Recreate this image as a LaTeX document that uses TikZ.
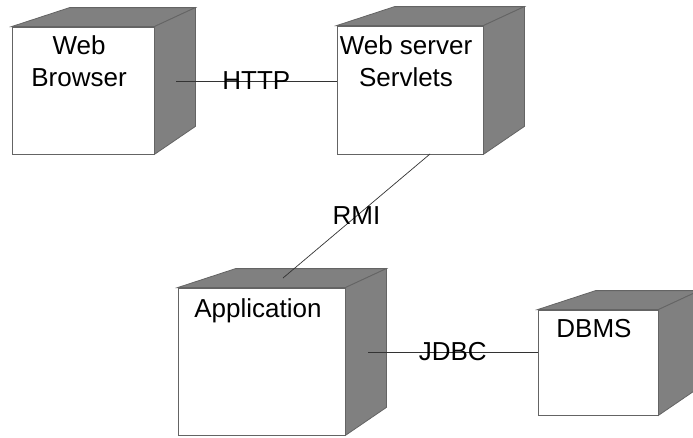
\documentclass[tikz,border=0pt]{standalone}
\usepackage{fontspec}
\setmainfont{Liberation Sans}
\usepackage{tikz}
\usetikzlibrary{positioning,calc}

\definecolor{sidegray}{RGB}{128,128,128}
\definecolor{edgegray}{RGB}{100,100,100}

% top and right faces of a node box
\newcommand{\nodedepth}[1]{%
  \filldraw[fill=sidegray, draw=edgegray, line width=0.8pt]
    (#1.north west) -- ++(58,-19) -- ($(#1.north east)+(41,-19)$) -- (#1.north east) -- cycle;
  \filldraw[fill=sidegray, draw=edgegray, line width=0.8pt]
    (#1.north east) -- ++(41,-19) -- ($(#1.south east)+(41,-28)$) -- (#1.south east) -- cycle;
}

\begin{document}
\begin{tikzpicture}[
    x=1pt, y=-1pt,
    device/.style={rectangle, draw=edgegray, fill=white, line width=0.8pt, inner sep=0pt},
    devlabel/.style={anchor=north, inner sep=0pt, align=center, font=\fontsize{26}{32}\selectfont},
    link/.style={draw=black!80, line width=0.7pt},
    linklabel/.style={midway, inner sep=0pt, font=\fontsize{26}{32}\selectfont}
]
\useasboundingbox (0,0) rectangle (693,437);
\clip (0,0) rectangle (693,437);

\node[device, minimum width=142pt, minimum height=127pt] (browser) at (83,90.5) {};
\node[device, minimum width=146pt, minimum height=128pt] (server) at (410,90) {};
\node[device, minimum width=167pt, minimum height=147pt] (app) at (261.5,361.5) {};
\node[device, minimum width=120pt, minimum height=105pt] (dbms) at (598,362.5) {};

\nodedepth{browser}
\nodedepth{server}
\nodedepth{app}
\nodedepth{dbms}

\node[devlabel] (browserlbl) at (79,35) {Web\\Browser};
\node[devlabel] (serverlbl) at (406,35) {Web server\\Servlets};
\node[devlabel] (applbl) at (258,298) {Application};
\node[devlabel] (dbmslbl) at (594,319) {DBMS};

\coordinate (browserport) at (176,81);
\coordinate (serverport) at (430,154);
\coordinate (appport) at (283,278);
\coordinate (appside) at (368,352);

\draw[link] (browserport) -- (server.west |- browserport) node[linklabel] (http) {HTTP};
\draw[link] (serverport) -- (appport) node[linklabel] (rmi) {RMI};
\draw[link] (appside) -- (dbms.west |- appside) node[linklabel] (jdbc) {JDBC};
\end{tikzpicture}
\end{document}
